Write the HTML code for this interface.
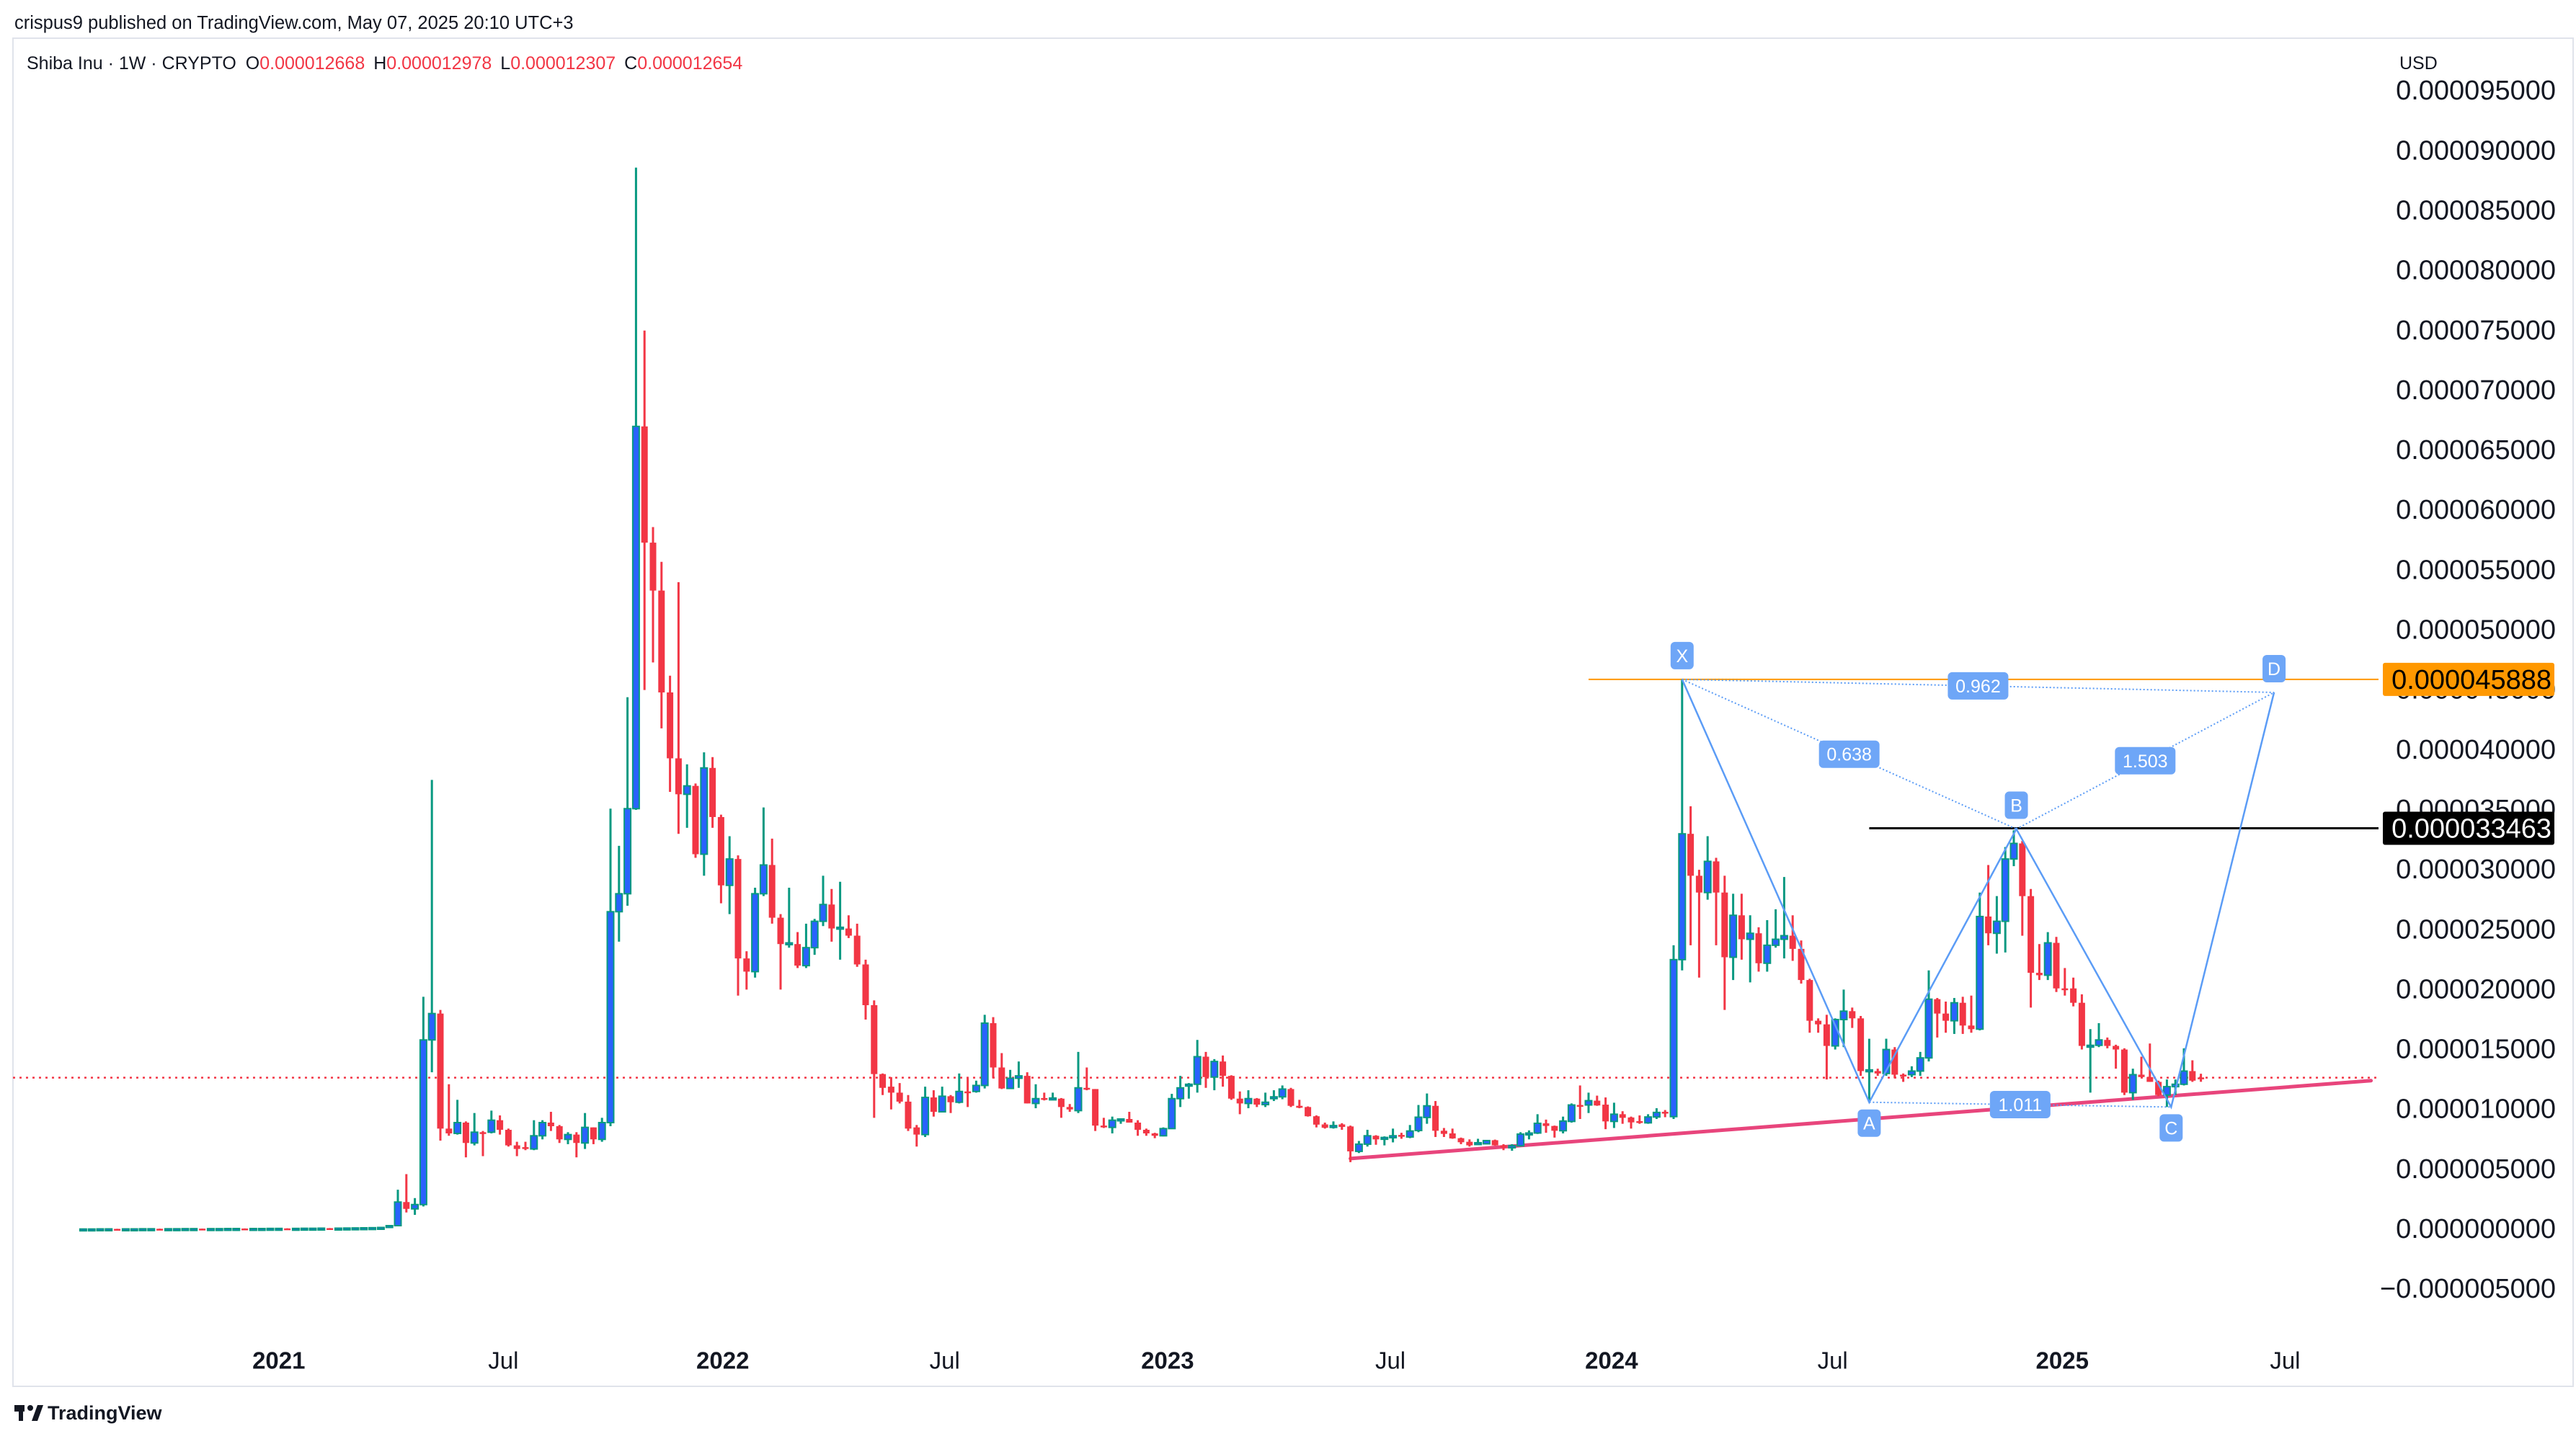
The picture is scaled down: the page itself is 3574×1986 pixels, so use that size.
<!DOCTYPE html>
<html><head><meta charset="utf-8"><title>Shiba Inu 1W</title>
<style>
html,body{margin:0;padding:0;background:#fff;}
body{width:3574px;height:1986px;overflow:hidden;font-family:"Liberation Sans",sans-serif;}
svg{display:block;}
</style></head>
<body>
<svg id="chart" width="3574" height="1986" viewBox="0 0 3574 1986" xmlns="http://www.w3.org/2000/svg" font-family="Liberation Sans, sans-serif">
  <rect x="0" y="0" width="3574" height="1986" fill="#ffffff"/>
  <text x="20" y="40" font-size="25.5" fill="#131722">crispus9 published on TradingView.com, May 07, 2025 20:10 UTC+3</text>
  <rect x="18" y="53" width="3552" height="1871" fill="none" stroke="#e0e3eb" stroke-width="2"/>
  <text x="37" y="96" font-size="25" fill="#131722">Shiba Inu · 1W · CRYPTO  <tspan dx="6">O</tspan><tspan fill="#f23645">0.000012668</tspan><tspan dx="12">H</tspan><tspan fill="#f23645">0.000012978</tspan><tspan dx="12">L</tspan><tspan fill="#f23645">0.000012307</tspan><tspan dx="12">C</tspan><tspan fill="#f23645">0.000012654</tspan></text>
  <text x="3329" y="96" font-size="25" fill="#131722">USD</text>
  <g id="yaxis"></g>
  <g id="xaxis"></g>
  <g id="refs"></g>
  <g id="candles"></g>
  <g id="pattern"></g>
  <g id="tags"></g>
  <g>
    <rect x="20" y="1950" width="14" height="9" fill="#131722"/>
    <rect x="26" y="1950" width="6" height="22" fill="#131722"/>
    <circle cx="42" cy="1954" r="4" fill="#131722"/>
    <polygon points="44,1972 52,1950 60,1950 52,1972" fill="#131722"/>
    <text x="66" y="1970" font-size="27" font-weight="bold" fill="#131722">TradingView</text>
  </g>
</svg>
<script>
// ---- data (prices in units of 1e-6 USD) ----
const priceTicks = [-5,0,5,10,15,20,25,30,35,40,45,50,55,60,65,70,75,80,85,90,95];
const timeLabels = ['2021','Jul','2022','Jul','2023','Jul','2024','Jul','2025','Jul'];
const timeIdx = [23.0,49.4,75.2,101.3,127.5,153.7,179.7,205.7,232.7,258.9];
const timeBold = [1,0,1,0,1,0,1,0,1,0];
const currentPrice = 12.654;
const orangeLevel = 45.888;
const blackLevel = 33.463;
const orangeStartIdx = 177;
const blackStartIdx = 210;
const trendIdx = [149, 269];
const trendVal = [5.9, 12.4];
const patLabels = ['X','A','B','C','D'];
const patIdx = [188, 210, 227.3, 245.5, 257.6];
const patVal = [45.888, 10.6, 33.4, 10.2, 44.8];
const ratioLabels = ['0.962','0.638','1.503','1.011'];
const ratioFrom = [0,0,2,1];
const ratioTo = [4,2,4,3];
const candles = [
[0.02,0.03,0.01,0.02],[0.02,0.03,0.01,0.02],[0.02,0.03,0.02,0.03],[0.03,0.04,0.02,0.03],[0.03,0.04,0.02,0.02],
[0.02,0.03,0.02,0.03],[0.03,0.04,0.02,0.03],[0.03,0.04,0.03,0.04],[0.04,0.05,0.03,0.04],[0.04,0.05,0.03,0.03],
[0.03,0.04,0.03,0.04],[0.04,0.05,0.03,0.04],[0.04,0.05,0.04,0.05],[0.05,0.06,0.04,0.05],[0.05,0.06,0.04,0.04],
[0.04,0.05,0.04,0.05],[0.05,0.06,0.04,0.05],[0.05,0.06,0.05,0.06],[0.06,0.07,0.05,0.06],[0.06,0.07,0.05,0.05],
[0.05,0.06,0.05,0.06],[0.06,0.07,0.05,0.06],[0.06,0.08,0.05,0.07],[0.07,0.08,0.06,0.07],[0.07,0.08,0.06,0.06],
[0.06,0.07,0.05,0.07],[0.07,0.09,0.06,0.08],[0.08,0.09,0.07,0.08],[0.08,0.10,0.07,0.09],[0.09,0.10,0.08,0.08],
[0.08,0.10,0.07,0.09],[0.09,0.11,0.08,0.10],[0.10,0.12,0.09,0.11],[0.11,0.13,0.10,0.12],[0.12,0.14,0.11,0.13],
[0.13,0.16,0.12,0.15],[0.15,0.30,0.14,0.30],
[0.3,3.3,0.3,2.27],[2.27,4.6,1.4,1.7],[1.7,2.6,1.2,2.06],[2.06,19.4,1.9,15.8],[15.8,37.5,13.1,18.0],
[18.0,18.3,7.4,8.4],[8.4,12.1,7.8,8.0],[8.0,10.8,7.9,8.9],[8.9,9.0,6.0,7.2],[7.2,9.7,7.0,8.1],
[8.1,8.2,6.1,8.05],[8.1,9.9,8.0,9.1],[9.1,9.5,7.9,8.3],[8.3,8.4,6.9,7.0],[7.0,7.3,6.1,6.7],
[6.85,7.3,6.6,6.75],[6.7,9.1,6.6,7.8],[7.8,9.1,7.5,8.9],[8.9,9.8,8.2,8.6],[8.6,8.7,7.2,7.5],
[7.5,8.1,7.1,7.9],[7.9,8.1,6.0,7.2],[7.2,9.7,6.7,8.5],[8.5,8.5,7.1,7.5],[7.5,9.3,7.3,8.9],
[8.9,35.1,8.6,26.5],[26.5,32,24,28],[28,44.4,27,35.1],[35.1,88.6,35,67],[67,75,45,57.3],
[57.3,58.6,47.3,53.3],[53.3,55.7,41.8,44.8],[44.8,46.2,36.5,39.3],[39.3,54,33,36.3],[36.3,38.8,33.5,37],
[37,37.2,31,31.3],[31.3,39.8,29.5,38.5],[38.5,39.4,33.5,34.4],[34.4,34.6,27.2,28.7],[28.7,32.8,26.3,30.9],
[30.9,31.2,19.5,22.6],[22.6,23.2,20,21.5],[21.5,28.5,21,28],[28,35.2,27.8,30.4],[30.4,32.6,25.5,26],
[26,26.3,20,23.8],[23.8,28.5,23.5,23.9],[23.8,24.8,21.8,22],[22,25.5,21.8,23.5],[23.5,25.9,22.9,25.7],
[25.7,29.5,25.3,27.1],[27.1,28.4,24,25.1],[25.1,29,22.5,25.2],[25.1,26.2,24.3,24.5],[24.5,25.5,21.9,22.1],
[22.1,22.5,17.5,18.7],[18.7,19.1,9.3,12.95],[12.95,13.0,11.2,11.8],[11.9,12.7,10.0,11.4],[11.4,12.2,10.5,10.65],
[10.65,11.2,8.2,8.4],[8.5,8.7,6.9,7.9],[7.9,11.9,7.7,11.0],[11.0,11.6,9.4,9.8],[9.8,11.9,9.75,11.1],
[11.1,11.2,9.7,10.6],[10.6,13.0,10.5,11.5],[11.5,12.6,10.2,11.45],[11.5,12.4,11.4,12.0],[12.0,17.9,11.75,17.2],
[17.2,17.7,12.6,13.5],[13.5,14.7,11.7,11.75],[11.75,13.3,11.7,12.6],[12.6,14.0,11.8,12.8],[12.8,13.1,10.5,10.5],
[10.5,12.1,10.1,10.9],[10.95,11.4,10.75,10.9],[10.9,11.4,10.85,10.95],[10.9,10.95,9.3,10.2],[10.2,10.45,9.8,10.0],
[9.9,14.8,9.7,11.8],[11.8,13.5,11.6,11.7],[11.7,11.7,8.2,8.65],[8.65,9.3,8.45,8.5],[8.5,9.4,8.0,9.1],
[9.15,9.2,8.8,9.2],[9.2,9.8,8.9,8.9],[8.9,9.1,7.8,8.3],[8.3,8.4,7.8,8.0],[8.0,8.05,7.6,7.8],
[7.8,8.5,7.75,8.4],[8.4,11.3,8.4,10.9],[10.9,12.8,10.2,11.8],[12.05,12.2,10.9,12.1],[12.1,15.8,11.4,14.4],
[14.4,14.8,11.8,12.7],[12.7,14.2,11.6,14.0],[14.0,14.5,11.9,12.8],[12.8,12.85,10.8,10.9],[10.9,11.5,9.6,10.5],
[10.5,11.6,10.1,10.9],[10.9,10.95,10.2,10.4],[10.4,11.4,10.2,10.6],
[10.95,11.6,10.7,11.05],[11.05,12.0,10.85,11.7],[11.7,11.8,10.2,10.3],[10.3,10.8,10.1,10.14],[10.2,10.25,9.4,9.43],
[9.43,9.5,8.5,8.73],[8.75,8.9,8.4,8.47],[8.5,9.0,8.4,8.65],[8.75,8.85,8.3,8.54],[8.58,8.65,5.6,6.5],
[6.5,7.37,6.36,7.1],[7.1,8.3,6.9,7.8],[7.8,7.85,7.05,7.5],[7.6,7.75,7.0,7.66],[7.64,8.4,7.25,7.8],
[7.87,8.05,7.55,7.83],[7.7,8.7,7.6,8.2],[8.24,10.37,8.1,9.35],[9.33,11.33,8.8,10.3],[10.3,10.7,7.7,8.22],
[8.22,8.45,7.7,7.96],[8.0,8.4,7.55,7.58],[7.6,7.65,7.1,7.26],[7.3,7.5,6.9,7.0],[7.18,7.55,7.1,7.22],
[7.13,7.45,7.1,7.4],[7.43,7.48,6.98,7.0],[7.0,7.1,6.6,6.83],[6.8,7.1,6.55,6.98],[6.96,8.1,6.9,7.94],
[7.94,8.25,7.5,8.03],[8.03,9.6,7.95,8.84],[8.84,9.15,8.05,8.62],[8.62,8.65,7.65,8.22],[8.22,9.4,8.0,9.03],
[9.0,10.5,8.9,10.37],[10.37,12.0,9.2,10.32],[10.37,11.4,9.7,10.73],[10.73,11.15,10.3,10.33],[10.4,11.0,8.35,9.0],
[9.0,10.56,8.45,9.6],[9.6,9.85,8.8,9.3],[9.33,9.4,8.4,8.92],[9.02,9.5,8.8,8.98],[8.88,9.6,8.8,9.37],
[9.37,10.1,9.2,9.75],[9.8,9.95,9.35,9.75],
[9.4,23.7,9.2,22.5],[22.5,45.888,21.6,33],[33,35.3,23.7,29.5],[29.5,30,21,28.1],[28.1,32.8,27.5,30.7],
[30.7,31,23.7,28.1],[28.1,29.5,18.3,22.7],[22.7,28,20.8,26.2],[26.2,28,22.5,24.2],[24.2,26.2,20.6,24.7],
[24.7,25.2,21.5,22.2],[22.2,25.8,21.5,23.7],[23.7,26.7,23.5,24.2],[24.2,29.4,22.6,24.5],[24.5,26.2,22.4,23.4],
[23.4,24.1,20.5,20.8],[20.8,20.9,16.4,17.4],[17.4,17.6,16.4,17.1],[17.1,17.9,12.5,15.3],[15.3,17.6,15.0,17.5],
[17.5,20,15.2,18.2],[18.2,18.5,16.8,17.6],[17.6,17.8,12.8,13.2],[13.2,15.9,10.6,13.3],[13.2,13.4,12.8,13.0],
[13.0,15.9,12.8,15.0],[15.0,15.2,12.6,12.9],[12.9,13.0,12.3,12.85],[12.9,13.6,12.7,13.2],[13.2,14.8,12.8,14.3],
[14.3,21.6,14.0,19.2],[19.2,19.3,16.0,18.0],[18.0,19.0,16.4,17.4],[17.4,19.3,16.3,18.9],[18.9,19.4,16.3,17.0],
[17.0,19.5,16.4,16.7],[16.7,28.1,16.6,26.1],[26.1,30.4,23.7,24.7],[24.7,27.8,23.0,25.7],[25.7,31.9,23.1,30.9],
[30.9,33.3,30.3,32.2],[32.2,32.4,24.5,27.8],[27.8,28.4,18.5,21.4],[21.4,23.8,20.8,21.2],[21.2,24.8,20.8,23.9],
[23.9,24.4,19.8,20.1],[20.1,21.8,19.5,20.05],[20.1,21.0,18.6,18.9],[18.9,19.6,15.0,15.3],[15.2,16.7,11.4,15.35],
[15.35,17.2,15.2,15.8],[15.8,16.0,15.1,15.3],[15.3,15.4,13.4,15.0],[15.0,15.1,11.2,11.4],[11.4,13.4,10.8,12.9],
[12.9,14.4,12.7,12.7],[12.7,15.5,12.3,12.3],[12.3,12.4,11.1,11.2],[11.2,12.5,10.2,11.9],[11.9,12.5,11.2,12.1],
[12.1,15.1,12.0,13.2],[13.2,14.1,12.3,12.4],[12.668,12.978,12.307,12.654]
];

// ---- scales ----
const NS = 'http://www.w3.org/2000/svg';
const X0 = 115.4, STEP = 11.8;
const Y0 = 1706, PPU = 16.63;
const xs = i => X0 + i * STEP;
const ys = p => Y0 - p * PPU;
const PLOT_RIGHT = 3300;
function mk(tag, attrs, parent) {
  const e = document.createElementNS(NS, tag);
  for (const k in attrs) e.setAttribute(k, attrs[k]);
  parent.appendChild(e);
  return e;
}
function fmt(v) {
  const s = (Math.abs(v) / 1e6).toFixed(9);
  return (v < 0 ? '\u2212' : '') + s;
}

// price axis
const yaxis = document.getElementById('yaxis');
priceTicks.forEach(t => {
  const el = mk('text', {x: 3546, y: ys(t), 'font-size': 38, fill: '#131722', 'text-anchor': 'end', 'dominant-baseline': 'central'}, yaxis);
  
  
  el.textContent = fmt(t);
});

// time axis
const xaxis = document.getElementById('xaxis');
timeLabels.forEach((lab, k) => {
  const el = mk('text', {x: xs(timeIdx[k]), y: 1888, 'font-size': 33, fill: '#131722', 'text-anchor': 'middle', 'dominant-baseline': 'central', 'font-weight': timeBold[k] ? 'bold' : 'normal'}, xaxis);
  
  
  el.textContent = lab;
});

// reference lines
const refs = document.getElementById('refs');
let ln = mk('line', {x1: 18, x2: PLOT_RIGHT, y1: ys(currentPrice), y2: ys(currentPrice), stroke: '#f23645', 'stroke-width': 2.5, 'stroke-dasharray': '3,6'}, refs);


ln = mk('line', {x1: xs(orangeStartIdx), x2: PLOT_RIGHT, y1: ys(orangeLevel), y2: ys(orangeLevel), stroke: '#ff9800', 'stroke-width': 2}, refs);


ln = mk('line', {x1: xs(blackStartIdx), x2: PLOT_RIGHT, y1: ys(blackLevel), y2: ys(blackLevel), stroke: '#000000', 'stroke-width': 3}, refs);


ln = mk('line', {x1: xs(trendIdx[0]), x2: xs(trendIdx[1]), y1: ys(trendVal[0]), y2: ys(trendVal[1]), stroke: '#e8457c', 'stroke-width': 5, 'stroke-linecap': 'round'}, refs);



// candles
const cg = document.getElementById('candles');
const BW = 9;
candles.forEach((c, i) => {
  const [o, h, l, cl] = c;
  const up = cl >= o;
  const x = xs(i);
  const g = mk('g', {}, cg);
  
  
  const wick = mk('line', {x1: x, x2: x, y1: ys(h), y2: ys(l), stroke: up ? '#089981' : '#f23645', 'stroke-width': 3}, g);
  
  
  const top = ys(Math.max(o, cl)), bot = ys(Math.min(o, cl));
  const hh = Math.max(bot - top, 2.5);
  const body = mk('rect', {x: x - BW / 2, y: top, width: BW, height: hh, fill: up ? '#2962ff' : '#f23645'}, g);
  if (up) { body.setAttribute('stroke', '#089981'); body.setAttribute('stroke-width', 2); }
  
  
});

// XABCD pattern
const pg = document.getElementById('pattern');
const P = patIdx.map((v, k) => [xs(v), ys(patVal[k])]);
ratioLabels.forEach((r, k) => {
  const a = P[ratioFrom[k]], b = P[ratioTo[k]];
  const d = mk('line', {x1: a[0], y1: a[1], x2: b[0], y2: b[1], stroke: '#5b9cf6', 'stroke-width': 2, 'stroke-dasharray': '2,3'}, pg);
  
  
});
const poly = mk('polyline', {points: P.map(p => p.join(',')).join(' '), fill: 'none', stroke: '#5b9cf6', 'stroke-width': 2.5}, pg);


ratioLabels.forEach((r, k) => {
  const a = P[ratioFrom[k]], b = P[ratioTo[k]];
  const mx = (a[0] + b[0]) / 2, my = (a[1] + b[1]) / 2;
  const bx = mk('rect', {x: mx - 42, y: my - 19, width: 84, height: 38, rx: 6, fill: '#6ea6f7'}, pg);
  
  
  const t = mk('text', {x: mx, y: my + 1, 'font-size': 25, fill: '#ffffff', 'text-anchor': 'middle', 'dominant-baseline': 'central'}, pg);
  
  
  t.textContent = r;
});
const above = [1, 0, 1, 0, 1];
patLabels.forEach((lab, k) => {
  const cx = P[k][0];
  const cy = above[k] ? P[k][1] - 33 : P[k][1] + 29;
  const bx = mk('rect', {x: cx - 16, y: cy - 19, width: 32, height: 38, rx: 6, fill: '#6ea6f7'}, pg);
  
  
  const t = mk('text', {x: cx, y: cy + 1, 'font-size': 25, fill: '#ffffff', 'text-anchor': 'middle', 'dominant-baseline': 'central'}, pg);
  
  
  t.textContent = lab;
});

// price tags
const tg = document.getElementById('tags');
[[orangeLevel, '#ff9800', '#000000', 'target-price-tag'], [blackLevel, '#000000', '#ffffff', 'resistance-price-tag']].forEach(d => {
  const y = ys(d[0]);
  const r = mk('rect', {x: 3306, y: y - 23, width: 238, height: 46, rx: 3, fill: d[1]}, tg);
  
  
  const t = mk('text', {x: 3540, y: y + 1, 'font-size': 38, fill: d[2], 'text-anchor': 'end', 'dominant-baseline': 'central'}, tg);
  
  
  t.textContent = fmt(d[0]);
});
</script>
</body></html>
